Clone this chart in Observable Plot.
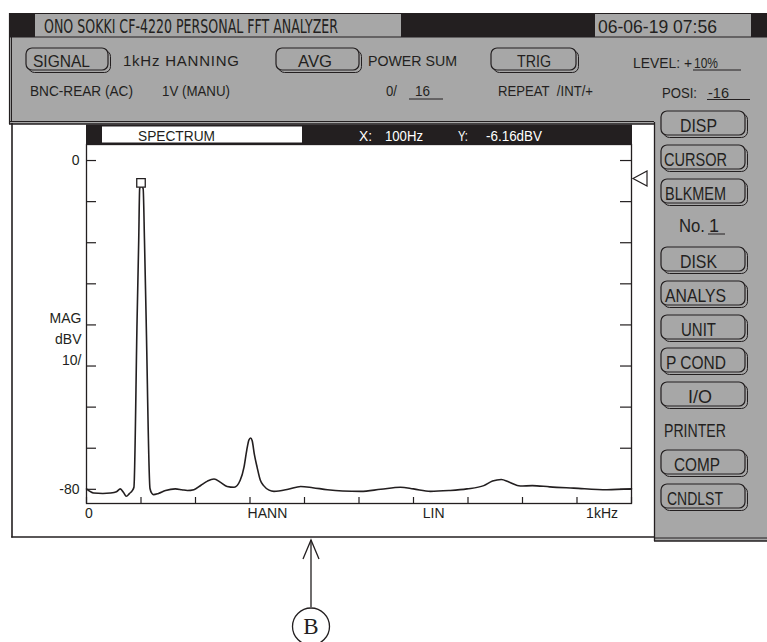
<!DOCTYPE html>
<html><head><meta charset="utf-8">
<script src="https://cdn.jsdelivr.net/npm/d3@7"></script>
<script src="https://cdn.jsdelivr.net/npm/@observablehq/plot@0.6"></script>
<style>
html,body{margin:0;padding:0;background:#fff;overflow:hidden;}
#chart{position:relative;width:767px;height:642px;}
#chart svg{position:absolute;left:0;top:0;}
</style></head><body><div id="chart"></div>
<script>
// ---- data ----
const freqHz = [0, 13, 30, 44, 55, 62, 68, 73, 79, 84, 87, 92.8, 95.8, 97.6, 100, 103.9, 106.4, 109.5, 116.5, 120, 123, 132, 145, 163, 175, 185, 197, 210, 222, 234, 246, 258, 271, 282, 289, 294, 298, 301, 304, 308, 313, 319, 325, 335, 344, 370, 393, 415, 442, 470, 503, 540, 576, 600, 631, 665, 698, 729, 745, 761, 775, 796, 818, 850, 894, 955, 1000];
const magDbV = [-79.9, -80.9, -81.0, -80.9, -80.6, -79.9, -80.8, -81.7, -81.0, -80.3, -79.5, -38.9, -19.5, -6.8, -6.16, -6.8, -19.5, -38.9, -79.8, -81.0, -81.3, -81.0, -80.3, -79.9, -80.1, -80.3, -80.1, -79.0, -78.0, -77.5, -78.3, -79.3, -79.5, -77.8, -74.6, -70.5, -68.0, -67.5, -68.2, -71.5, -74.6, -77.8, -79.1, -80.2, -80.5, -80.0, -79.3, -79.6, -80.1, -80.4, -80.5, -80.0, -79.5, -79.9, -80.5, -80.3, -79.9, -79.1, -78.0, -77.6, -78.2, -79.2, -79.1, -79.4, -79.7, -80.1, -79.9];
const yTicksDb = [0, -10, -20, -30, -40, -50, -60, -70, -80];
const xTicksHz = [0, 100, 200, 300, 400, 500, 600, 700, 800, 900, 1000];
const yLabelDb = [0, -80];
const yLabelText = ["0", "-80"];
const xLabelText = ["0", "HANN", "LIN", "1kHz"];
const xLabelHz = [4.6, 332, 637, 946];
const cursorHz = 100;
const cursorDbV = -6.16;
const yUnitText = "MAG\ndBV\n10/";

// ---- styles ----
const W = 767, H = 642;
const ink = "#231f20", gray = "#a7a7a7";
const sans = "'Liberation Sans', Arial, Helvetica, sans-serif";
const narrow = "'Liberation Sans Narrow', 'DejaVu Sans Condensed', 'Liberation Sans', sans-serif";
const serif = "'Liberation Serif', 'DejaVu Serif', serif";

const spectrum = freqHz.map((f, i) => ({f, m: magDbV[i]}));
const cursor = [{f: cursorHz, m: cursorDbV}];

// ---- decoration layer (instrument screen) ----
const deco = d3.create("svg").attr("width", W).attr("height", H);
function rect(x, y, w, h, fill, stroke, sw, rx) {
  const r = deco.append("rect").attr("x", x).attr("y", y).attr("width", w).attr("height", h)
    .attr("fill", fill || "none");
  if (stroke) r.attr("stroke", stroke).attr("stroke-width", sw || 1);
  if (rx) r.attr("rx", rx).attr("ry", rx);
  return r;
}
function line(x1, y1, x2, y2, sw) {
  deco.append("line").attr("x1", x1).attr("y1", y1).attr("x2", x2).attr("y2", y2)
    .attr("stroke", ink).attr("stroke-width", sw || 1);
}
function txt(s, x, y, size, len, opts) {
  opts = opts || {};
  const t = deco.append("text").attr("x", x).attr("y", y).text(s)
    .attr("font-family", opts.family || sans).attr("font-size", size)
    .attr("fill", opts.fill || ink).attr("text-anchor", opts.anchor || "start");
  if (len) t.attr("textLength", len).attr("lengthAdjust", opts.adjust || "spacingAndGlyphs");
  return t;
}
function btn(x, y, w, h) {
  rect(x + 2.5, y + 2.5, w, h, gray, ink, 1, 6);
  rect(x, y, w, h, gray, ink, 1.2, 6);
}

// top panel
rect(9, 13, 758, 111, gray);
line(9, 13.5, 767, 13.5, 1.2);
line(9.5, 13, 9.5, 124, 1.2);
line(11.5, 37, 11.5, 122, 1);
line(9, 121.5, 654, 121.5, 1);
line(9, 124, 654, 124, 1.3);
// right panel
rect(654, 124, 113, 417, gray);
line(654.5, 122, 654.5, 541, 1.3);
line(654, 538, 767, 538, 1);
line(654, 541, 767, 541, 1.3);
// title bar
rect(9, 13, 26, 24, ink);
rect(401, 13, 194, 24, ink);
rect(751, 13, 16, 24, ink);
line(9, 37, 767, 37, 1.2);
txt("ONO SOKKI CF-4220 PERSONAL FFT ANALYZER", 44, 33, 19, 294, {family: narrow});
txt("06-06-19 07:56", 598, 33, 19, 119);

// row 1
btn(26, 48, 82, 22);
txt("SIGNAL", 33, 67, 17, 57);
txt("1kHz HANNING", 123, 66, 15, 116, {adjust: "spacing"});
btn(276, 48, 83, 22);
txt("AVG", 298, 67, 17, 34);
txt("POWER SUM", 368, 66, 15, 89);
btn(491, 48, 85, 22);
txt("TRIG", 517, 67, 17, 34);
txt("LEVEL: +", 633, 67.5, 15, 59);
txt("10%", 694, 67.5, 15, 24);
line(693, 70, 741, 70, 1);
// row 2
txt("BNC-REAR (AC)", 30, 96, 15, 103);
txt("1V (MANU)", 162, 96, 15, 68);
txt("0/", 386, 96, 15, 11);
txt("16", 415, 96, 15, 15);
line(409, 99, 443, 99, 1);
txt("REPEAT\u00a0\u00a0/INT/+", 498, 96, 15, 95);
txt("POSI:", 662, 97.5, 15, 35);
txt("-16", 708, 97.5, 15, 21);
line(707, 99.5, 750, 99.5, 1);

// right panel buttons
const rightBtns = [
  ["DISP", 111, 680, 37], ["CURSOR", 145, 664, 63], ["BLKMEM", 179, 665, 61],
  ["DISK", 247, 680, 37], ["ANALYS", 281, 665, 61], ["UNIT", 315, 681, 35],
  ["P COND", 348, 666, 60], ["I/O", 382, 688, 24], ["COMP", 450, 674, 46], ["CNDLST", 484, 667, 56]
];
rightBtns.forEach(([s, y, tx, tl]) => { btn(661, y, 84, 24); txt(s, tx, y + 20.5, 18, tl); });
txt("No.", 679, 232, 18, 26);
txt("1", 709, 232, 18);
line(708, 234, 725, 234, 1);
txt("PRINTER", 664, 437, 18, 62);

// outer frame of the display area
line(12, 123, 12, 537.5, 1.6);
line(11.2, 537, 655, 537, 1.6);

// plot header bar
rect(86, 124.5, 546, 19.5, ink);
rect(102, 126.5, 200, 16, "#fff");
txt("SPECTRUM", 138, 141, 14, 77);
txt("X:", 359, 141, 14, 13, {fill: "#fff"});
txt(`${cursorHz}Hz`, 385, 141, 14, 38, {fill: "#fff"});
txt("Y:", 458, 141, 14, 10, {fill: "#fff"});
txt(`${cursorDbV.toFixed(2)}dBV`, 486, 141, 14, 56, {fill: "#fff"});
// level marker
deco.append("polygon").attr("points", "633,178.5 647,171 647,186")
  .attr("fill", "#fff").attr("stroke", ink).attr("stroke-width", 1.2);

// arrow + circled B
line(311, 540, 311, 607, 1.3);
deco.append("polyline").attr("points", "303,559 311,540 319,559")
  .attr("fill", "none").attr("stroke", ink).attr("stroke-width", 1.3);
deco.append("circle").attr("cx", 311).attr("cy", 626.5).attr("r", 18.5)
  .attr("fill", "none").attr("stroke", ink).attr("stroke-width", 1.3);
txt("B", 311, 634, 23, null, {family: serif, anchor: "middle"});

document.getElementById("chart").appendChild(deco.node());

// ---- the spectrum chart ----
const plotW = W - 86 - 136, plotH = H - 144 - 139;
const chart = Plot.plot({
  width: W, height: H,
  marginLeft: 86, marginRight: 136, marginTop: 144, marginBottom: 139,
  x: {domain: [0, 1000], axis: null},
  y: {domain: [-83.45, 3.9], axis: null},
  style: {background: "transparent", fontFamily: sans, fontSize: "14px", color: ink},
  marks: [
    Plot.frame({stroke: ink, strokeWidth: 1.3}),
    Plot.ruleY(yTicksDb, {stroke: ink, strokeWidth: 1.2, insetRight: plotW - 10}),
    Plot.ruleY(yTicksDb, {stroke: ink, strokeWidth: 1.2, insetLeft: plotW - 11}),
    Plot.ruleX(xTicksHz, {stroke: ink, strokeWidth: 1.2, insetTop: plotH - 6}),
    Plot.line(spectrum, {x: "f", y: "m", curve: "monotone-x", stroke: ink, strokeWidth: 1.6}),
    Plot.dot(cursor, {x: "f", y: "m", symbol: "square", r: 4.8, fill: "#fff", stroke: ink, strokeWidth: 1.3, dy: -3}),
    Plot.text(yLabelDb, {y: d => d, text: (d, i) => yLabelText[i], frameAnchor: "left", dx: -7, textAnchor: "end", fill: ink}),
    Plot.text([yUnitText], {text: d => d, frameAnchor: "left", dx: -5, dy: 13, textAnchor: "end", lineHeight: 1.5, fill: ink}),
    Plot.text(xLabelText, {x: (d, i) => xLabelHz[i], text: d => d, frameAnchor: "bottom", dy: 14, fill: ink})
  ]
});
document.getElementById("chart").appendChild(chart);
</script></body></html>
